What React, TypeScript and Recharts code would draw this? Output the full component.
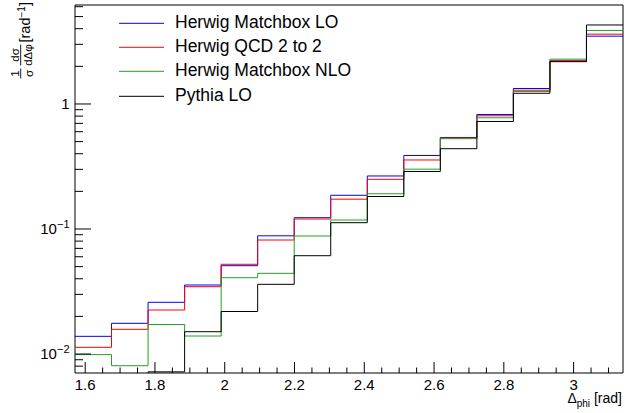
import React from 'react';
import { ComposedChart, Line, XAxis, YAxis, Legend, ReferenceArea } from 'recharts';

// Bin edges of the Δφ histograms (π/2 … π, 15 bins)
const binEdges = [
  1.5708, 1.6755, 1.7802, 1.885, 1.9897, 2.0944, 2.1991, 2.3038,
  2.4086, 2.5133, 2.618, 2.7227, 2.8274, 2.9322, 3.0369, 3.1416,
];

// Normalised bin contents, one value per bin
const herwigMatchboxLO = [
  0.01385, 0.0176, 0.02592, 0.03565, 0.05087, 0.08822, 0.1231, 0.1861,
  0.2655, 0.3873, 0.5395, 0.8241, 1.33, 2.208, 3.486,
];
const herwigQCD2to2 = [
  0.01131, 0.01576, 0.02249, 0.03455, 0.0522, 0.08166, 0.1202, 0.1732,
  0.2497, 0.3565, 0.5346, 0.8046, 1.289, 2.216, 3.617,
];
const herwigMatchboxNLO = [
  0.00989, 0.00806, 0.01722, 0.01393, 0.04077, 0.04421, 0.0879, 0.118,
  0.1913, 0.3009, 0.5277, 0.7757, 1.259, 2.282, 3.873,
];
const pythiaLO = [
  0.0052, 0.0061, 0.0072, 0.01508, 0.02188, 0.0361, 0.06115, 0.1123,
  0.182, 0.2884, 0.4388, 0.7244, 1.218, 2.18, 4.285,
];

const seriesNames = ['Herwig Matchbox LO', 'Herwig QCD 2 to 2', 'Herwig Matchbox NLO', 'Pythia LO'];
const seriesColors = ['#0000ff', '#ff0000', '#22a022', '#000000'];

const xTicks = [
  1.6, 1.65, 1.7, 1.75, 1.8, 1.85, 1.9, 1.95, 2, 2.05, 2.1, 2.15, 2.2, 2.25,
  2.3, 2.35, 2.4, 2.45, 2.5, 2.55, 2.6, 2.65, 2.7, 2.75, 2.8, 2.85, 2.9,
  2.95, 3, 3.05, 3.1,
];
const yTicks = [
  0.008, 0.009, 0.01, 0.02, 0.03, 0.04, 0.05, 0.06, 0.07, 0.08, 0.09,
  0.1, 0.2, 0.3, 0.4, 0.5, 0.6, 0.7, 0.8, 0.9, 1, 2, 3, 4, 5, 6,
];

const X_DOMAIN: [number, number] = [Math.PI / 2, Math.PI];
const Y_DOMAIN: [number, number] = [0.00705, 6.19];

const FONT = '"Liberation Sans", Arial, Helvetica, sans-serif';

// Step-histogram rows: each edge carries the content of the bin to its right,
// the closing edge repeats the last bin.
const seriesData = [herwigMatchboxLO, herwigQCD2to2, herwigMatchboxNLO, pythiaLO];
const rows = binEdges.map((edge, i) => {
  const k = Math.min(i, herwigMatchboxLO.length - 1);
  return {
    x: edge,
    s0: seriesData[0][k],
    s1: seriesData[1][k],
    s2: seriesData[2][k],
    s3: seriesData[3][k],
  };
});

const XTick = (props: any) => {
  const { x, y, payload } = props;
  const v = payload.value as number;
  const major = Math.round(v * 100) % 20 === 0;
  return (
    <g>
      <line x1={x} x2={x} y1={y} y2={y - (major ? 11 : 5.5)} stroke="#000" strokeWidth={1} />
      {major && (
        <text x={x} y={y + 17} textAnchor="middle" fontSize={15} fontFamily={FONT} fill="#000">
          {String(v)}
        </text>
      )}
    </g>
  );
};

const YTick = (props: any) => {
  const { x, y, payload } = props;
  const v = payload.value as number;
  const e = Math.log10(v);
  const major = Math.abs(e - Math.round(e)) < 1e-6;
  const exp = Math.round(e);
  return (
    <g>
      <line x1={x} x2={x + (major ? 16 : 8)} y1={y} y2={y} stroke="#000" strokeWidth={1} />
      {major && (
        <text x={x - 5.5} y={y} dy="0.36em" textAnchor="end" fontSize={15} fontFamily={FONT} fill="#000">
          {exp === 0 ? (
            '1'
          ) : (
            <>
              <tspan>10</tspan>
              <tspan dy={-6} fontSize={11}>{`\u2212${Math.abs(exp)}`}</tspan>
            </>
          )}
        </text>
      )}
    </g>
  );
};

const XTitle = () => (
  <text x={622} y={402.5} textAnchor="end" fontSize={14} fontFamily={FONT} fill="#000">
    Δ<tspan fontSize={10} dy={4}>phi</tspan>
    <tspan dy={-4}> [rad]</tspan>
  </text>
);

const YTitle = () => (
  <g transform="translate(24, 80) rotate(-90)" fontFamily={FONT} fill="#000">
    <text x={6.5} y={-5.5} textAnchor="middle" fontSize={11.5}>1</text>
    <line x1={1.5} x2={11.5} y1={-3.3} y2={-3.3} stroke="#000" strokeWidth={0.9} />
    <text x={6.5} y={8.5} textAnchor="middle" fontSize={11.5}>σ</text>
    <text x={25} y={-5.5} textAnchor="middle" fontSize={11.5}>dσ</text>
    <line x1={14.5} x2={35.5} y1={-3.3} y2={-3.3} stroke="#000" strokeWidth={0.9} />
    <text x={25} y={8} textAnchor="middle" fontSize={11.5}>dΔφ</text>
    <text x={37.5} y={6} fontSize={14.5}>
      [rad<tspan dy={-5} fontSize={10}>{'\u22121'}</tspan>
      <tspan dy={5}>]</tspan>
    </text>
  </g>
);

const LegendBox = (props: any) => {
  const items = [...((props.payload || []) as any[])].sort(
    (a, b) => seriesNames.indexOf(a.value) - seriesNames.indexOf(b.value),
  );
  return (
    <div style={{ fontFamily: FONT, fontSize: 17.5, color: '#000' }}>
      {items.map((it) => (
        <div
          key={it.value}
          style={{ display: 'flex', alignItems: 'flex-start', height: 24.2, lineHeight: '24.2px', whiteSpace: 'nowrap' }}
        >
          <svg width={56} height={24.2} style={{ display: 'block', flex: 'none' }}>
            <line x1={0} x2={45} y1={13.3} y2={13.3} stroke={it.color} strokeWidth={1} />
          </svg>
          <span>{it.value}</span>
        </div>
      ))}
    </div>
  );
};

export default function App() {
  return (
    <div style={{ position: 'absolute', left: 0, top: 0, background: '#fff' }}>
      <ComposedChart
        width={625}
        height={413}
        data={rows}
        margin={{ top: 5, right: 2, bottom: 0, left: 0 }}
      >
        <XAxis
          dataKey="x"
          type="number"
          domain={X_DOMAIN}
          allowDataOverflow
          ticks={xTicks}
          interval={0}
          tickSize={0}
          tickMargin={0}
          tickLine={false}
          axisLine={false}
          height={40}
          tick={<XTick />}
          label={<XTitle />}
        />
        <YAxis
          type="number"
          scale="log"
          domain={Y_DOMAIN}
          allowDataOverflow
          ticks={yTicks}
          interval={0}
          tickSize={0}
          tickMargin={0}
          tickLine={false}
          axisLine={false}
          width={75}
          tick={<YTick />}
          label={<YTitle />}
        />
        <Legend
          layout="vertical"
          align="center"
          verticalAlign="middle"
          wrapperStyle={{ left: 119, top: 10, width: 'auto', height: 'auto' }}
          content={<LegendBox />}
        />
        {seriesNames.map((name, i) => (
          <Line
            key={name}
            name={name}
            dataKey={`s${i}`}
            type="stepAfter"
            stroke={seriesColors[i]}
            strokeWidth={1}
            dot={false}
            activeDot={false}
            isAnimationActive={false}
          />
        ))}
        <ReferenceArea
          x1={X_DOMAIN[0]}
          x2={X_DOMAIN[1]}
          y1={Y_DOMAIN[0]}
          y2={Y_DOMAIN[1]}
          fill="none"
          stroke="#000"
          strokeWidth={1}
          ifOverflow="visible"
        />
      </ComposedChart>
    </div>
  );
}
